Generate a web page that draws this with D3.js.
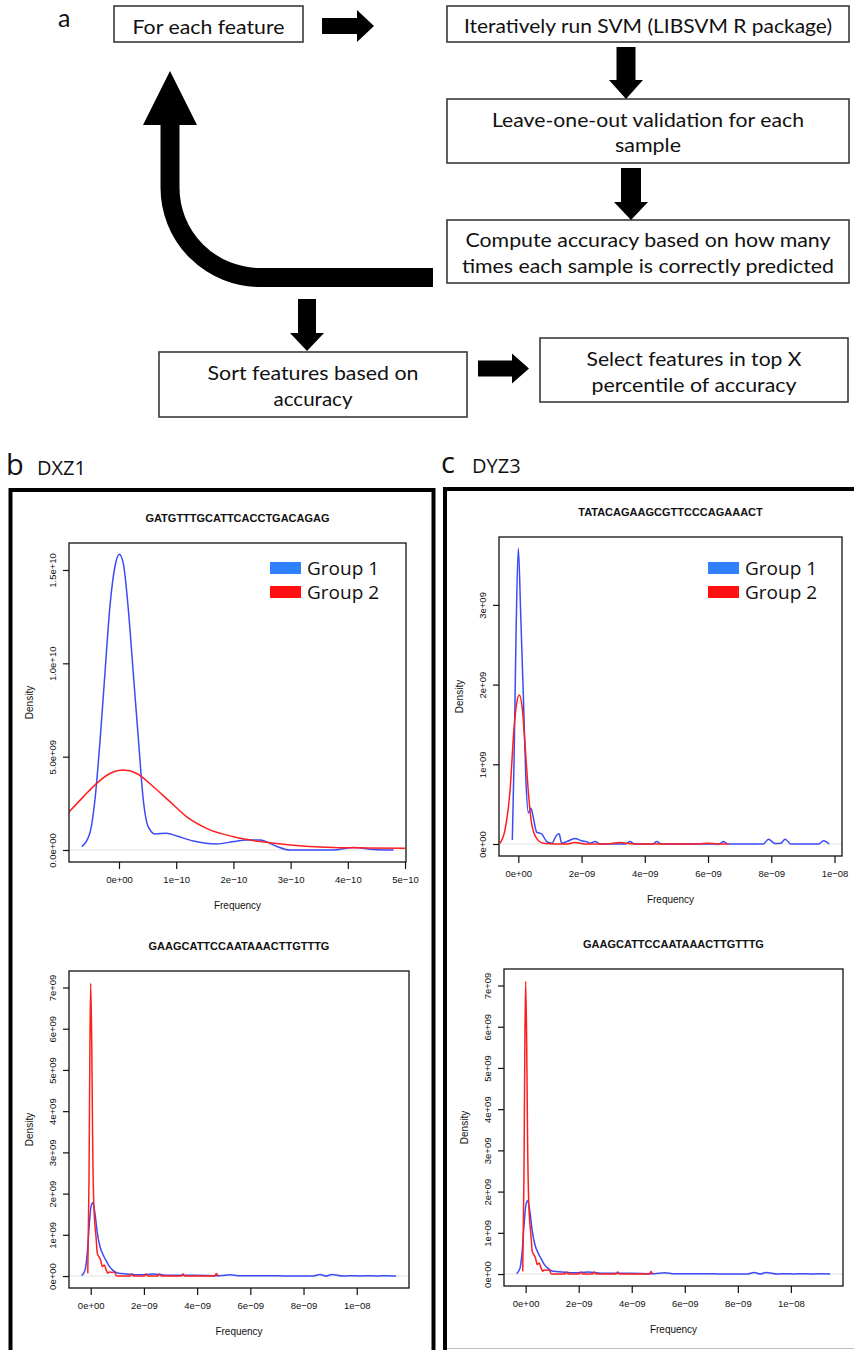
<!DOCTYPE html>
<html>
<head>
<meta charset="utf-8">
<script src="https://cdn.jsdelivr.net/npm/d3@7"></script>
<style>
  html, body { margin: 0; padding: 0; background: #fff; }
  svg { display: block; }
</style>
</head>
<body>
<svg id="fig" width="854" height="1350"></svg>
<script>
// ------------------------------------------------------------------
// Data
// ------------------------------------------------------------------
const groupNames = ["Group 1", "Group 2"];

// Flow of the feature-selection procedure (panel a)
const stepFeature   = ["For each feature"];
const stepSvm       = ["Iteratively run SVM (LIBSVM R package)"];
const stepLoo       = ["Leave-one-out validation for each", "sample"];
const stepAccuracy  = ["Compute accuracy based on how many", "times each sample is correctly predicted"];
const stepSort      = ["Sort features based on", "accuracy"];
const stepSelect    = ["Select features in top X", "percentile of accuracy"];

// Panel titles
const panelB = ["b", "DXZ1"];
const panelC = ["c", "DYZ3"];
const featureDxz1 = "GATGTTTGCATTCACCTGACAGAG";
const featureDyz3 = "TATACAGAAGCGTTCCCAGAAACT";
const featureShared = "GAAGCATTCCAATAAACTTGTTTG";

// DXZ1 feature density: x in units of 1e-10, density in units of 1e9
const dxz1Group1 = [[-0.65,0.18],[-0.51,0.9],[-0.42,2.7],[-0.33,5.9],[-0.245,9.5],[-0.16,13.0],[-0.07,15.2],[0.005,15.85],[0.075,15.35],[0.16,13.0],[0.25,9.46],[0.34,5.9],[0.425,2.68],[0.51,1.25],[0.63,0.86],[0.83,0.9],[1.01,0.75],[1.30,0.48],[1.71,0.32],[2.0,0.45],[2.23,0.54],[2.47,0.54],[2.75,0.2],[2.99,0.0],[3.74,0.0],[4.1,0.14],[4.45,0.03],[4.8,0.0]];
const dxz1Group2 = [[-0.9,1.95],[-0.62,2.86],[-0.39,3.57],[-0.16,4.1],[0.075,4.28],[0.31,4.1],[0.6,3.39],[0.89,2.59],[1.18,1.79],[1.53,1.16],[2.0,0.71],[2.47,0.45],[2.99,0.27],[3.75,0.14],[4.33,0.11],[5.0,0.09]];

// DYZ3 feature density: x in units of 1e-9, density in units of 1e9
const dyz3Group1 = [[-0.19,0.05],[-0.136,1.01],[-0.07,2.68],[0.0,3.71],[0.075,2.89],[0.16,1.85],[0.24,0.80],[0.32,0.39],[0.40,0.45],[0.47,0.34],[0.58,0.15],[0.74,0.125],[0.90,0.03],[1.06,0.01],[1.21,0.11],[1.29,0.13],[1.37,0.01],[1.53,0.03],[1.79,0.07],[2.0,0.04],[2.16,0.03],[2.27,0.01],[2.43,0.03],[2.6,0.0],[3.4,0.0],[3.53,0.03],[3.68,0.0],[4.25,0.0],[4.38,0.03],[4.52,0.0],[6.35,0.0],[6.49,0.03],[6.62,0.0],[7.75,0.0],[7.91,0.06],[8.12,0.005],[8.3,0.01],[8.44,0.06],[8.62,0.0],[9.5,0.0],[9.65,0.04],[9.83,0.0]];
const dyz3Group2 = [[-0.58,0.01],[-0.42,0.18],[-0.26,0.68],[-0.14,1.43],[-0.05,1.77],[0.03,1.87],[0.12,1.72],[0.21,1.26],[0.32,0.64],[0.42,0.26],[0.58,0.07],[0.79,0.01],[1.2,0.0],[1.55,0.0],[1.79,0.02],[2.1,0.0],[2.8,0.0],[3.2,0.02],[3.65,0.0],[5.7,0.0],[6.0,0.01],[6.3,0.0],[6.65,0.0]];

// Shared feature density (both panels): x in units of 1e-9, density in units of 1e9
const sharedGroup1 = [[-0.34,0.01],[-0.21,0.15],[-0.13,0.55],[-0.05,1.28],[0.01,1.68],[0.075,1.78],[0.16,1.52],[0.25,1.04],[0.35,0.71],[0.47,0.51],[0.6,0.35],[0.73,0.21],[0.85,0.13],[1.04,0.065],[1.35,0.05],[1.85,0.03],[2.35,0.05],[2.85,0.02],[3.85,0.02],[4.85,0.01],[5.24,0.03],[5.6,0.005],[6.6,0.01],[7.5,0.0],[8.35,0.0],[8.62,0.04],[8.85,0.0],[9.06,0.04],[9.5,0.0],[9.9,0.01],[10.1,0.0],[10.45,0.01],[10.8,0.0],[11.1,0.01],[11.48,0.0]];
const sharedGroup2 = [[-0.11,0.065],[-0.064,2.33],[-0.03,5.56],[0.0,7.10],[0.04,5.56],[0.075,3.14],[0.12,1.68],[0.2,0.95],[0.25,0.55],[0.31,0.47],[0.37,0.39],[0.44,0.23],[0.51,0.27],[0.58,0.15],[0.64,0.07],[0.7,0.1],[0.79,0.09],[0.88,0.1],[0.98,0.0],[1.48,0.0],[1.54,0.05],[1.6,0.0],[2.02,0.0],[2.08,0.05],[2.14,0.0],[2.53,0.0],[2.59,0.05],[2.65,0.0],[3.41,0.0],[3.47,0.05],[3.53,0.0],[4.66,0.0],[4.72,0.06],[4.8,0.0]];

// Axis ticks
const dxz1XTicks = [0, 1, 2, 3, 4, 5];
const dxz1XLabels = ["0e+00", "1e\u221210", "2e\u221210", "3e\u221210", "4e\u221210", "5e\u221210"];
const dxz1YTicks = [0, 5, 10, 15];
const dxz1YLabels = ["0.0e+00", "5.0e+09", "1.0e+10", "1.5e+10"];

const dyz3XTicks = [0, 2, 4, 6, 8, 10];
const dyz3XLabels = ["0e+00", "2e\u221209", "4e\u221209", "6e\u221209", "8e\u221209", "1e\u221208"];
const dyz3YTicks = [0, 1, 2, 3];
const dyz3YLabels = ["0e+00", "1e+09", "2e+09", "3e+09"];

const sharedXTicks = [0, 2, 4, 6, 8, 10];
const sharedXLabels = ["0e+00", "2e\u221209", "4e\u221209", "6e\u221209", "8e\u221209", "1e\u221208"];
const sharedYTicks = [0, 1, 2, 3, 4, 5, 6, 7];
const sharedYLabels = ["0e+00", "1e+09", "2e+09", "3e+09", "4e+09", "5e+09", "6e+09", "7e+09"];

const xAxisTitle = "Frequency";
const yAxisTitle = "Density";

// ------------------------------------------------------------------
// Styles
// ------------------------------------------------------------------
const lineColors = ["#3b4cf7", "#ff1e1e"];
const legendColors = ["#2f80ff", "#ff0f0f"];
const rFont = "'Liberation Sans', Arial, Helvetica, sans-serif";
const flowFont = "Lato, 'Open Sans', sans-serif";
const labelFont = "'Open Sans', 'Noto Sans', sans-serif";

const svg = d3.select("#fig");
svg.append("rect").attr("width", 854).attr("height", 1350).attr("fill", "#fff");

// ------------------------------------------------------------------
// Panel a: flow chart
// ------------------------------------------------------------------
const flow = svg.append("g");

flow.append("text").attr("x", 58).attr("y", 27).text("a")
  .attr("font-family", flowFont).attr("font-size", 25).attr("fill", "#111");

const boxes = [
  { lines: stepFeature,  x: 114, y: 6,   w: 189, h: 36, cx: 208.5, base: [34],       len: [152] },
  { lines: stepSvm,      x: 447, y: 6,   w: 402, h: 36, cx: 648,   base: [33],       len: [368] },
  { lines: stepLoo,      x: 447, y: 99,  w: 402, h: 64, cx: 648,   base: [127, 152], len: [312, 66] },
  { lines: stepAccuracy, x: 447, y: 220, w: 402, h: 63, cx: 648,   base: [247, 273], len: [365, 372] },
  { lines: stepSort,     x: 159, y: 352, w: 308, h: 65, cx: 313,   base: [380, 406], len: [211, 79] },
  { lines: stepSelect,   x: 540, y: 338, w: 308, h: 64, cx: 694,   base: [366, 392], len: [215, 205] }
];

boxes.forEach(b => {
  flow.append("rect").attr("x", b.x).attr("y", b.y).attr("width", b.w).attr("height", b.h)
    .attr("fill", "#fff").attr("stroke", "#3a3a3a").attr("stroke-width", 1.6);
  b.lines.forEach((t, i) => {
    flow.append("text").attr("x", b.cx).attr("y", b.base[i]).text(t)
      .attr("text-anchor", "middle")
      .attr("font-family", flowFont).attr("font-size", 20).attr("fill", "#111")
      .attr("textLength", b.len[i]).attr("lengthAdjust", "spacingAndGlyphs");
  });
});

// block arrows
function rightArrow(x0, headX, x1, cy, shaftHalf, headHalf) {
  return [[x0, cy - shaftHalf], [headX, cy - shaftHalf], [headX, cy - headHalf], [x1, cy],
          [headX, cy + headHalf], [headX, cy + shaftHalf], [x0, cy + shaftHalf]];
}
function downArrow(cx, y0, headY, y1, shaftHalf, headHalf) {
  return [[cx - shaftHalf, y0], [cx + shaftHalf, y0], [cx + shaftHalf, headY], [cx + headHalf, headY],
          [cx, y1], [cx - headHalf, headY], [cx - shaftHalf, headY]];
}
const arrowShapes = [
  rightArrow(322, 357, 374, 26, 8, 16),
  rightArrow(478, 512, 529, 368.5, 8, 15),
  downArrow(626, 47, 80, 99, 9.5, 17),
  downArrow(631, 168, 202, 220, 10, 17),
  downArrow(307, 299, 333, 351, 9, 17)
];
arrowShapes.forEach(p => {
  flow.append("polygon").attr("points", p.map(d => d.join(",")).join(" ")).attr("fill", "#000");
});

// loop-back arrow
flow.append("path")
  .attr("d", "M433,277.5 H260 A90,90 0 0 1 170,187.5 V123")
  .attr("fill", "none").attr("stroke", "#000").attr("stroke-width", 19);
flow.append("polygon").attr("points", "143,125 197,125 170,71").attr("fill", "#000");

// ------------------------------------------------------------------
// Panels b and c: frames and headings
// ------------------------------------------------------------------
svg.append("rect").attr("x", 10.5).attr("y", 490).attr("width", 423).attr("height", 900)
  .attr("fill", "none").attr("stroke", "#000").attr("stroke-width", 4);
svg.append("rect").attr("x", 445).attr("y", 489).attr("width", 500).attr("height", 900)
  .attr("fill", "none").attr("stroke", "#000").attr("stroke-width", 4);
svg.append("line").attr("x1", 447).attr("x2", 854).attr("y1", 1348.5).attr("y2", 1348.5)
  .attr("stroke", "#bdbdbd").attr("stroke-width", 1.2);

[[panelB, 6, 37, 475], [panelC, 441, 472, 473]].forEach(([lab, xl, xn, yb]) => {
  svg.append("text").attr("x", xl).attr("y", yb).text(lab[0])
    .attr("font-family", labelFont).attr("font-size", 29).attr("fill", "#111");
  svg.append("text").attr("x", xn).attr("y", yb).text(lab[1])
    .attr("font-family", labelFont).attr("font-size", 20).attr("fill", "#111");
});

// ------------------------------------------------------------------
// Density plots
// ------------------------------------------------------------------
function densityPlot(cfg) {
  const { id, left, right, top, bottom } = cfg;
  const x = d3.scaleLinear().domain(cfg.xDomain).range([left, right]);
  const y = d3.scaleLinear().domain(cfg.yDomain).range([bottom, top]);
  const g = svg.append("g");

  g.append("clipPath").attr("id", "clip-" + id)
    .append("rect").attr("x", left).attr("y", top).attr("width", right - left).attr("height", bottom - top);

  // zero reference line
  g.append("line").attr("x1", left).attr("x2", right).attr("y1", y(0)).attr("y2", y(0))
    .attr("stroke", "#e2e2e2").attr("stroke-width", 1);

  const line = d3.line().x(d => x(d[0])).y(d => y(d[1])).curve(d3.curveMonotoneX);
  cfg.series.forEach((vals, i) => {
    g.append("path").attr("d", line(vals)).attr("fill", "none")
      .attr("stroke", lineColors[i]).attr("stroke-width", 1.5)
      .attr("stroke-linejoin", "round")
      .attr("clip-path", `url(#clip-${id})`);
  });

  // box
  g.append("rect").attr("x", left).attr("y", top).attr("width", right - left).attr("height", bottom - top)
    .attr("fill", "none").attr("stroke", "#111").attr("stroke-width", 1.3);

  // x axis
  const gx = g.append("g").attr("transform", `translate(0,${bottom})`)
    .call(d3.axisBottom(x).tickValues(cfg.xTicks).tickFormat((d, i) => cfg.xLabels[i]).tickSize(7).tickSizeOuter(0));
  gx.select(".domain").remove();
  gx.selectAll(".tick line").attr("stroke", "#111").attr("stroke-width", 1.2);
  gx.selectAll(".tick text").attr("y", 18).attr("dy", "0.35em")
    .attr("font-family", rFont).attr("font-size", 9.5).attr("fill", "#111");

  // y axis with rotated labels
  const gy = g.append("g").attr("transform", `translate(${left},0)`)
    .call(d3.axisLeft(y).tickValues(cfg.yTicks).tickFormat((d, i) => cfg.yLabels[i]).tickSize(6).tickSizeOuter(0));
  gy.select(".domain").remove();
  gy.selectAll(".tick line").attr("stroke", "#111").attr("stroke-width", 1.2);
  gy.selectAll(".tick text")
    .attr("transform", "rotate(-90)").attr("x", 0).attr("y", -13).attr("dy", 0)
    .attr("text-anchor", "middle")
    .attr("font-family", rFont).attr("font-size", 9.5).attr("fill", "#111");

  // titles
  const cx = (left + right) / 2, cy = (top + bottom) / 2;
  g.append("text").attr("x", cx).attr("y", top - 21).text(cfg.title)
    .attr("text-anchor", "middle").attr("font-family", rFont).attr("font-weight", "bold")
    .attr("font-size", 11).attr("fill", "#111");
  g.append("text").attr("x", cx).attr("y", bottom + 47).text(xAxisTitle)
    .attr("text-anchor", "middle").attr("font-family", rFont).attr("font-size", 10).attr("fill", "#111");
  g.append("text").attr("transform", `translate(${left - 36.5},${cy}) rotate(-90)`).text(yAxisTitle)
    .attr("text-anchor", "middle").attr("font-family", rFont).attr("font-size", 10).attr("fill", "#111");

  // legend
  if (cfg.legendX !== undefined) {
    groupNames.forEach((name, i) => {
      const ty = 562 + i * 24;
      g.append("rect").attr("x", cfg.legendX).attr("y", ty).attr("width", 31).attr("height", 12)
        .attr("fill", legendColors[i]);
      g.append("text").attr("x", cfg.legendX + 37).attr("y", ty + 13).text(name)
        .attr("font-family", labelFont).attr("font-size", 19).attr("fill", "#111");
    });
  }
}

densityPlot({
  id: "dxz1", left: 69, right: 406, top: 543, bottom: 862,
  xDomain: [-0.874, 5.017], yDomain: [-0.643, 16.446],
  series: [dxz1Group1, dxz1Group2],
  xTicks: dxz1XTicks, xLabels: dxz1XLabels, yTicks: dxz1YTicks, yLabels: dxz1YLabels,
  title: featureDxz1, legendX: 270
});

densityPlot({
  id: "dyz3", left: 499, right: 842, top: 537, bottom: 856,
  xDomain: [-0.611, 10.237], yDomain: [-0.1506, 3.852],
  series: [dyz3Group1, dyz3Group2],
  xTicks: dyz3XTicks, xLabels: dyz3XLabels, yTicks: dyz3YTicks, yLabels: dyz3YLabels,
  title: featureDyz3, legendX: 708
});

densityPlot({
  id: "sharedB", left: 69, right: 409, top: 971, bottom: 1288,
  xDomain: [-0.816, 11.965], yDomain: [-0.29, 7.40],
  series: [sharedGroup1, sharedGroup2],
  xTicks: sharedXTicks, xLabels: sharedXLabels, yTicks: sharedYTicks, yLabels: sharedYLabels,
  title: featureShared
});

densityPlot({
  id: "sharedC", left: 504, right: 843, top: 969, bottom: 1286,
  xDomain: [-0.816, 11.965], yDomain: [-0.29, 7.40],
  series: [sharedGroup1, sharedGroup2],
  xTicks: sharedXTicks, xLabels: sharedXLabels, yTicks: sharedYTicks, yLabels: sharedYLabels,
  title: featureShared
});
</script>
</body>
</html>
